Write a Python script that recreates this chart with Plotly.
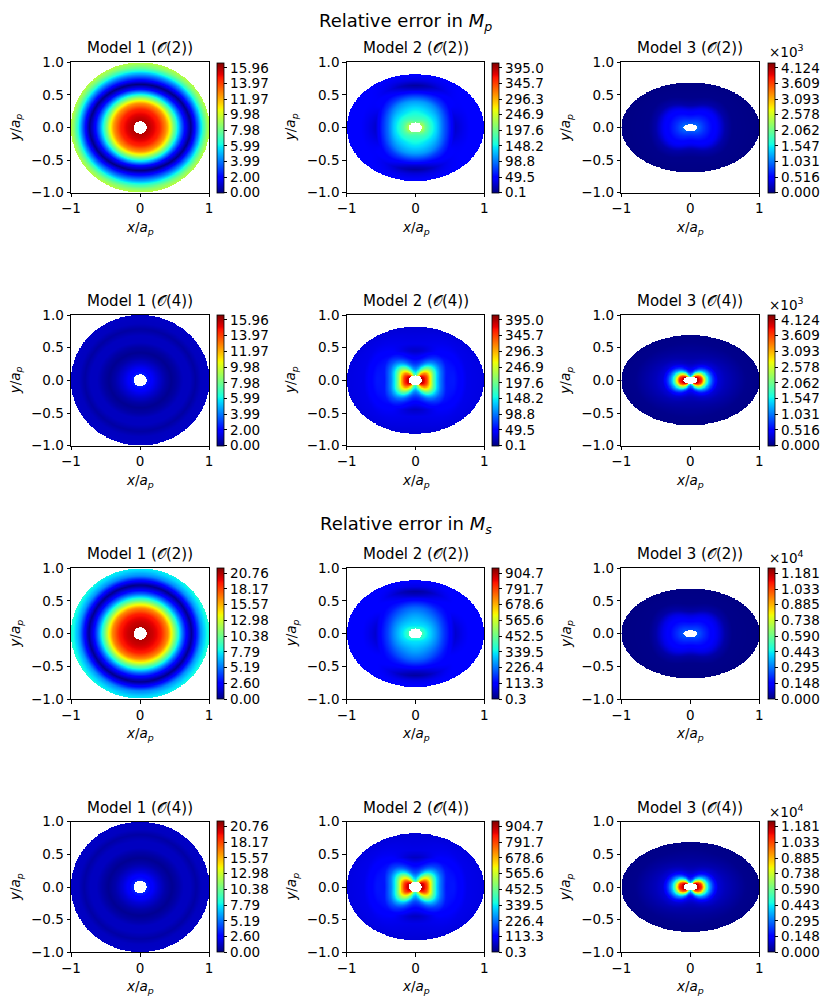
import numpy as np
import plotly.graph_objects as go

# the page body keeps its default 8 px margin, so the figure is 16 px smaller
OFF = 8
W, H = 831 - 2 * OFF, 1004 - 2 * OFF
N = 241

# plate (semi axis along y) and hole semi axes, per model
PLATE_B = [1.0, 0.82, 0.69]
HOLE_A = [0.095, 0.095, 0.10]
HOLE_B = [0.095, 0.075, 0.055]

# colour bar tick labels (as printed) and their multiplier
TICKS_MP_M1 = ["0.00", "2.00", "3.99", "5.99", "7.98", "9.98", "11.97", "13.97", "15.96"]
TICKS_MP_M2 = ["0.1", "49.5", "98.8", "148.2", "197.6", "246.9", "296.3", "345.7", "395.0"]
TICKS_MP_M3 = ["0.000", "0.516", "1.031", "1.547", "2.062", "2.578", "3.093", "3.609", "4.124"]
TICKS_MS_M1 = ["0.00", "2.60", "5.19", "7.79", "10.38", "12.98", "15.57", "18.17", "20.76"]
TICKS_MS_M2 = ["0.3", "113.3", "226.4", "339.5", "452.5", "565.6", "678.6", "791.7", "904.7"]
TICKS_MS_M3 = ["0.000", "0.148", "0.295", "0.443", "0.590", "0.738", "0.885", "1.033", "1.181"]

# error (RX, VX), y axis (RY, VY), diagonal (RD, VD)
# --- M_p, model 1
MP_M1_O2_RX = [0.095, 0.15, 0.28, 0.38, 0.44, 0.49, 0.54, 0.59, 0.65, 0.73, 0.80, 0.85, 0.90, 0.95, 1.00]
MP_M1_O2_VX = [15.9, 15.6, 14.5, 12.5, 10.4, 8.0, 6.0, 4.0, 2.0, 0.1, 2.5, 4.5, 6.5, 8.3, 9.6]
MP_M1_O2_RY = [0.095, 0.15, 0.28, 0.37, 0.42, 0.47, 0.51, 0.55, 0.59, 0.66, 0.74, 0.81, 0.87, 0.93, 1.00]
MP_M1_O2_VY = [15.9, 15.6, 14.5, 12.5, 10.4, 8.0, 6.0, 4.0, 2.0, 0.0, 2.5, 4.5, 6.5, 8.3, 9.6]

MP_M1_O4_RX = [0.095, 0.16, 0.26, 0.36, 0.45, 0.53, 0.62, 0.72, 0.80, 0.88, 1.00]
MP_M1_O4_VX = [2.5, 1.9, 1.2, 0.6, 0.25, 0.5, 0.9, 0.9, 0.5, 0.9, 1.0]
MP_M1_O4_RY = [0.095, 0.16, 0.25, 0.34, 0.42, 0.50, 0.58, 0.68, 0.78, 0.87, 1.00]
MP_M1_O4_VY = [2.5, 1.9, 1.2, 0.6, 0.25, 0.5, 0.9, 0.9, 0.5, 0.9, 1.0]

# --- M_p, model 2
MP_M2_O2_RX = [0.095, 0.15, 0.22, 0.31, 0.40, 0.50, 0.58, 0.68, 0.80, 1.00]
MP_M2_O2_VX = [240, 195, 165, 136, 95, 60, 28, 38, 46, 48]
MP_M2_O2_RY = [0.075, 0.12, 0.20, 0.30, 0.40, 0.50, 0.58, 0.64, 0.72, 0.82]
MP_M2_O2_VY = [195, 178, 160, 140, 115, 70, 30, 12, 35, 48]
MP_M2_O2_RD = [0.083, 0.15, 0.25, 0.35, 0.42, 0.50, 0.60, 0.70, 0.80, 0.897]
MP_M2_O2_VD = [215, 182, 150, 125, 105, 75, 50, 42, 44, 46]

MP_M2_O4_RX = [0.095, 0.13, 0.17, 0.20, 0.23, 0.26, 0.30, 0.35, 0.45, 0.56, 0.75, 1.00]
MP_M2_O4_VX = [392, 375, 345, 300, 245, 195, 150, 108, 60, 60, 38, 35]
MP_M2_O4_RY = [0.075, 0.10, 0.13, 0.16, 0.19, 0.22, 0.26, 0.32, 0.45, 0.56, 0.70, 0.82]
MP_M2_O4_VY = [175, 155, 135, 115, 100, 85, 70, 52, 25, 38, 34, 30]
MP_M2_O4_RD = [0.083, 0.12, 0.17, 0.22, 0.27, 0.31, 0.36, 0.42, 0.52, 0.62, 0.75, 0.897]
MP_M2_O4_VD = [355, 325, 285, 235, 185, 145, 110, 80, 53, 45, 38, 33]

# --- M_p, model 3
MP_M3_O2_RX = [0.10, 0.15, 0.22, 0.30, 0.40, 0.50, 0.60, 1.00]
MP_M3_O2_VX = [1000, 860, 700, 560, 420, 150, 40, 15]
MP_M3_O2_RY = [0.055, 0.10, 0.15, 0.20, 0.27, 0.34, 0.45, 0.69]
MP_M3_O2_VY = [900, 780, 650, 530, 400, 150, 40, 15]
MP_M3_O2_RD = [0.068, 0.12, 0.19, 0.27, 0.37, 0.46, 0.58, 0.803]
MP_M3_O2_VD = [950, 820, 680, 550, 410, 150, 40, 15]

MP_M3_O4_RX = [0.10, 0.13, 0.16, 0.19, 0.22, 0.26, 0.32, 0.40, 0.50, 0.62, 0.80, 1.00]
MP_M3_O4_VX = [4080, 3900, 3700, 3000, 2100, 1400, 800, 320, 220, 150, 50, 25]
MP_M3_O4_RY = [0.055, 0.07, 0.09, 0.11, 0.13, 0.16, 0.20, 0.26, 0.33, 0.45, 0.58, 0.69]
MP_M3_O4_VY = [1500, 1250, 1000, 800, 650, 500, 350, 220, 150, 90, 40, 25]
MP_M3_O4_RD = [0.068, 0.09, 0.12, 0.15, 0.18, 0.22, 0.27, 0.33, 0.42, 0.52, 0.65, 0.803]
MP_M3_O4_VD = [3700, 3300, 2800, 2200, 1600, 1050, 620, 320, 180, 110, 45, 25]

# --- M_s, model 1
MS_M1_O2_RX = [0.095, 0.18, 0.30, 0.40, 0.46, 0.51, 0.56, 0.61, 0.67, 0.74, 0.81, 0.88, 0.95, 1.00]
MS_M1_O2_VX = [20.7, 20.2, 19.0, 16.5, 13.5, 10.5, 7.8, 5.2, 2.6, 0.3, 3.0, 6.0, 7.8, 8.6]
MS_M1_O2_RY = [0.095, 0.18, 0.30, 0.39, 0.45, 0.50, 0.55, 0.60, 0.66, 0.74, 0.82, 0.88, 0.95, 1.00]
MS_M1_O2_VY = [20.7, 20.2, 19.0, 16.5, 13.5, 10.5, 7.8, 5.2, 2.6, 0.2, 3.0, 5.5, 7.0, 7.8]

MS_M1_O4_RX = [0.095, 0.16, 0.26, 0.36, 0.46, 0.54, 0.63, 0.72, 0.81, 0.89, 1.00]
MS_M1_O4_VX = [3.4, 2.6, 1.6, 0.8, 0.35, 0.7, 1.2, 1.2, 0.7, 1.2, 1.3]
MS_M1_O4_RY = [0.095, 0.16, 0.25, 0.35, 0.44, 0.52, 0.60, 0.70, 0.80, 0.88, 1.00]
MS_M1_O4_VY = [3.4, 2.6, 1.6, 0.8, 0.35, 0.7, 1.2, 1.2, 0.7, 1.2, 1.3]

# --- M_s, model 2
MS_M2_O2_RX = [0.095, 0.15, 0.22, 0.31, 0.40, 0.50, 0.58, 0.68, 0.80, 1.00]
MS_M2_O2_VX = [410, 355, 310, 250, 180, 120, 65, 90, 108, 112]
MS_M2_O2_RY = [0.075, 0.12, 0.20, 0.30, 0.40, 0.50, 0.58, 0.64, 0.72, 0.82]
MS_M2_O2_VY = [365, 330, 300, 260, 210, 130, 60, 28, 85, 112]
MS_M2_O2_RD = [0.083, 0.15, 0.25, 0.35, 0.42, 0.50, 0.60, 0.70, 0.80, 0.897]
MS_M2_O2_VD = [385, 330, 280, 225, 185, 140, 110, 100, 105, 110]

MS_M2_O4_RX = [0.095, 0.13, 0.17, 0.20, 0.23, 0.26, 0.30, 0.35, 0.45, 0.56, 0.75, 1.00]
MS_M2_O4_VX = [895, 860, 790, 690, 560, 445, 340, 245, 135, 135, 88, 80]
MS_M2_O4_RY = [0.075, 0.10, 0.13, 0.16, 0.19, 0.22, 0.26, 0.32, 0.45, 0.56, 0.70, 0.82]
MS_M2_O4_VY = [400, 350, 305, 260, 225, 190, 158, 120, 55, 85, 78, 70]
MS_M2_O4_RD = [0.083, 0.12, 0.17, 0.22, 0.27, 0.31, 0.36, 0.42, 0.52, 0.62, 0.75, 0.897]
MS_M2_O4_VD = [810, 740, 650, 540, 425, 330, 250, 182, 122, 102, 87, 76]

# --- M_s, model 3
MS_M3_O2_RX = [0.10, 0.15, 0.22, 0.30, 0.40, 0.50, 0.60, 1.00]
MS_M3_O2_VX = [2650, 2300, 1900, 1500, 1100, 400, 100, 40]
MS_M3_O2_RY = [0.055, 0.10, 0.15, 0.20, 0.27, 0.34, 0.45, 0.69]
MS_M3_O2_VY = [2400, 2100, 1750, 1400, 1050, 400, 100, 40]
MS_M3_O2_RD = [0.068, 0.12, 0.19, 0.27, 0.37, 0.46, 0.58, 0.803]
MS_M3_O2_VD = [2500, 2200, 1820, 1450, 1080, 400, 100, 40]

MS_M3_O4_RX = [0.10, 0.13, 0.16, 0.19, 0.22, 0.26, 0.32, 0.40, 0.50, 0.62, 0.80, 1.00]
MS_M3_O4_VX = [11700, 11200, 10600, 8600, 6000, 4000, 2300, 900, 630, 430, 140, 70]
MS_M3_O4_RY = [0.055, 0.07, 0.09, 0.11, 0.13, 0.16, 0.20, 0.26, 0.33, 0.45, 0.58, 0.69]
MS_M3_O4_VY = [4300, 3600, 2900, 2300, 1850, 1430, 1000, 630, 430, 260, 110, 70]
MS_M3_O4_RD = [0.068, 0.09, 0.12, 0.15, 0.18, 0.22, 0.27, 0.33, 0.42, 0.52, 0.65, 0.803]
MS_M3_O4_VD = [10600, 9500, 8000, 6300, 4600, 3000, 1780, 920, 520, 310, 130, 70]


# matplotlib "jet" segment data -> plotly colorscale
JET_R = ([0, 0.35, 0.66, 0.89, 1], [0, 0, 1, 1, 0.5])
JET_G = ([0, 0.125, 0.375, 0.64, 0.91, 1], [0, 0, 1, 1, 0, 0])
JET_B = ([0, 0.11, 0.34, 0.65, 1], [0.5, 1, 1, 0, 0])
stops = sorted(set(JET_R[0] + JET_G[0] + JET_B[0]))
jet = []
for s in stops:
    r, g, b = (np.interp(s, *c) for c in (JET_R, JET_G, JET_B))
    jet.append([s, f"rgb({r*255:.0f},{g*255:.0f},{b*255:.0f})"])


def make_field(model, rx, vx, ry, vy, rd=None, vd=None):
    rx, vx, ry, vy = (np.asarray(a, float) for a in (rx, vx, ry, vy))
    if rd is None:
        rd = 1 / np.sqrt(0.5 / rx**2 + 0.5 / ry**2)
        vd = 0.5 * (vx + vy)
    rd, vd = np.asarray(rd, float), np.asarray(vd, float)
    g = np.linspace(-1, 1, N)
    X, Y = np.meshgrid(g, g)
    r = np.hypot(X, Y)
    th = np.arctan2(np.abs(Y), np.abs(X))
    c2, c4 = np.cos(2 * th)[..., None], np.cos(4 * th)[..., None]
    # blend the three read-off directions smoothly in angle
    wx = 0.25 + c2 / 2 + c4 / 4
    wd = 0.5 - c4 / 2
    wy = 0.25 - c2 / 2 + c4 / 4
    R = np.maximum.accumulate(wx * rx + wd * rd + wy * ry, axis=-1)
    V = wx * vx + wd * vd + wy * vy
    Z = V[..., -1].copy()
    Z = np.where(r <= R[..., 0], V[..., 0], Z)
    for k in range(len(rx) - 1):
        lo, hi = R[..., k], R[..., k + 1]
        m = (r > lo) & (r <= hi)
        t = (r - lo) / np.maximum(hi - lo, 1e-9)
        Z = np.where(m, V[..., k] + t * (V[..., k + 1] - V[..., k]), Z)
    out = X**2 + (Y / PLATE_B[model]) ** 2 > 1
    hole = (X / HOLE_A[model]) ** 2 + (Y / HOLE_B[model]) ** 2 < 1
    Z[out | hole] = np.nan
    return g, Z.astype(np.float32)


panels = [
    # (model index, order, ticks, multiplier, read-off profiles)
    (0, 2, TICKS_MP_M1, 1, (MP_M1_O2_RX, MP_M1_O2_VX, MP_M1_O2_RY, MP_M1_O2_VY)),
    (1, 2, TICKS_MP_M2, 1, (MP_M2_O2_RX, MP_M2_O2_VX, MP_M2_O2_RY, MP_M2_O2_VY, MP_M2_O2_RD, MP_M2_O2_VD)),
    (2, 2, TICKS_MP_M3, 1e3, (MP_M3_O2_RX, MP_M3_O2_VX, MP_M3_O2_RY, MP_M3_O2_VY, MP_M3_O2_RD, MP_M3_O2_VD)),
    (0, 4, TICKS_MP_M1, 1, (MP_M1_O4_RX, MP_M1_O4_VX, MP_M1_O4_RY, MP_M1_O4_VY)),
    (1, 4, TICKS_MP_M2, 1, (MP_M2_O4_RX, MP_M2_O4_VX, MP_M2_O4_RY, MP_M2_O4_VY, MP_M2_O4_RD, MP_M2_O4_VD)),
    (2, 4, TICKS_MP_M3, 1e3, (MP_M3_O4_RX, MP_M3_O4_VX, MP_M3_O4_RY, MP_M3_O4_VY, MP_M3_O4_RD, MP_M3_O4_VD)),
    (0, 2, TICKS_MS_M1, 1, (MS_M1_O2_RX, MS_M1_O2_VX, MS_M1_O2_RY, MS_M1_O2_VY)),
    (1, 2, TICKS_MS_M2, 1, (MS_M2_O2_RX, MS_M2_O2_VX, MS_M2_O2_RY, MS_M2_O2_VY, MS_M2_O2_RD, MS_M2_O2_VD)),
    (2, 2, TICKS_MS_M3, 1e4, (MS_M3_O2_RX, MS_M3_O2_VX, MS_M3_O2_RY, MS_M3_O2_VY, MS_M3_O2_RD, MS_M3_O2_VD)),
    (0, 4, TICKS_MS_M1, 1, (MS_M1_O4_RX, MS_M1_O4_VX, MS_M1_O4_RY, MS_M1_O4_VY)),
    (1, 4, TICKS_MS_M2, 1, (MS_M2_O4_RX, MS_M2_O4_VX, MS_M2_O4_RY, MS_M2_O4_VY, MS_M2_O4_RD, MS_M2_O4_VD)),
    (2, 4, TICKS_MS_M3, 1e4, (MS_M3_O4_RX, MS_M3_O4_VX, MS_M3_O4_RY, MS_M3_O4_VY, MS_M3_O4_RD, MS_M3_O4_VD)),
]

# pixel boxes of the axes in the page
COL_X = [(71, 209), (346.7, 484.3), (621.3, 759.3)]
CBAR_X = [217, 492, 768]
ROW_Y = [(62.3, 192.7), (315, 445.7), (568.3, 699), (821.7, 952.3)]

FONT = "DejaVu Sans"
TICK_SIZE = 13.5
px = lambda v: (v - OFF) / W
py = lambda v: 1 - (v - OFF) / H

fig = go.Figure()
annotations = []
for i, (model, order, ticks, mult, prof) in enumerate(panels):
    row, col = divmod(i, 3)
    x0, x1 = COL_X[col]
    y0, y1 = ROW_Y[row]
    g, Z = make_field(model, *prof)
    tickvals = [float(t) * mult for t in ticks]
    zmin = tickvals[0]
    zmax = zmin + (tickvals[-1] - zmin) / 0.96
    sfx = "" if i == 0 else str(i + 1)
    fig.add_trace(go.Heatmap(
        x=g, y=g, z=Z, zmin=zmin, zmax=zmax, colorscale=jet,
        xaxis="x" + sfx, yaxis="y" + sfx, hoverinfo="skip",
        colorbar=dict(
            x=px(CBAR_X[col]), xanchor="left", xpad=0,
            y=py(y1), yanchor="bottom", ypad=0,
            len=(y1 - y0) / H, lenmode="fraction",
            thickness=7, outlinewidth=0.8, outlinecolor="black",
            ticks="outside", ticklen=3.5, tickwidth=0.8, tickcolor="black",
            tickvals=tickvals, ticktext=ticks,
            tickfont=dict(family=FONT, size=TICK_SIZE, color="black"),
        ),
    ))
    common = dict(showline=True, mirror=True, linecolor="black", linewidth=1,
                  ticks="outside", ticklen=3.5, tickwidth=0.8, tickcolor="black",
                  showgrid=False, zeroline=False, range=[-1, 1],
                  tickfont=dict(family=FONT, size=TICK_SIZE, color="black"))
    fig.update_layout({
        "xaxis" + sfx: dict(domain=[px(x0), px(x1)], anchor="y" + sfx,
                            tickvals=[-1, 0, 1], **common),
        "yaxis" + sfx: dict(domain=[py(y1), py(y0)], anchor="x" + sfx,
                            tickvals=[-1, -0.5, 0, 0.5, 1], tickformat=".1f", **common),
    })
    xc = (x0 + x1) / 2
    annotations.append(dict(text=f"Model {model + 1} (𝒪({order}))", x=px(xc), y=py(y0 - 14),
                            font=dict(size=15)))
    annotations.append(dict(text="<i>x</i>/<i>a</i><sub><i>p</i></sub>", x=px(xc), y=py(y1 + 35),
                            font=dict(size=TICK_SIZE)))
    annotations.append(dict(text="<i>y</i>/<i>a</i><sub><i>p</i></sub>", x=px(x0 - 55),
                            y=py((y0 + y1) / 2), textangle=-90, font=dict(size=TICK_SIZE)))
    if model == 2:
        exp = "3" if mult == 1e3 else "4"
        annotations.append(dict(text=f"×10<sup>{exp}</sup>", x=px(CBAR_X[col] - 1), y=py(y0 - 11),
                                xanchor="left", font=dict(size=TICK_SIZE)))

# main titles: the first one hangs from the top edge of the figure
annotations.append(dict(text="Relative error in <i>M</i><sub><i>p</i></sub>", x=px(405.5), y=1.0,
                        yanchor="top", font=dict(size=18)))
annotations.append(dict(text="Relative error in <i>M</i><sub><i>s</i></sub>", x=px(405.5), y=py(525),
                        font=dict(size=18)))
for a in annotations:
    a.update(xref="paper", yref="paper", showarrow=False)
    a.setdefault("xanchor", "center")
    a.setdefault("yanchor", "middle")
    a["font"].update(family=FONT, color="black")

fig.update_layout(width=W, height=H,
                  margin=dict(l=0, r=0, t=0, b=0, autoexpand=False),
                  paper_bgcolor="white", plot_bgcolor="white",
                  font=dict(family=FONT, color="black"), annotations=annotations,
                  showlegend=False)
fig.write_html("out.html")
